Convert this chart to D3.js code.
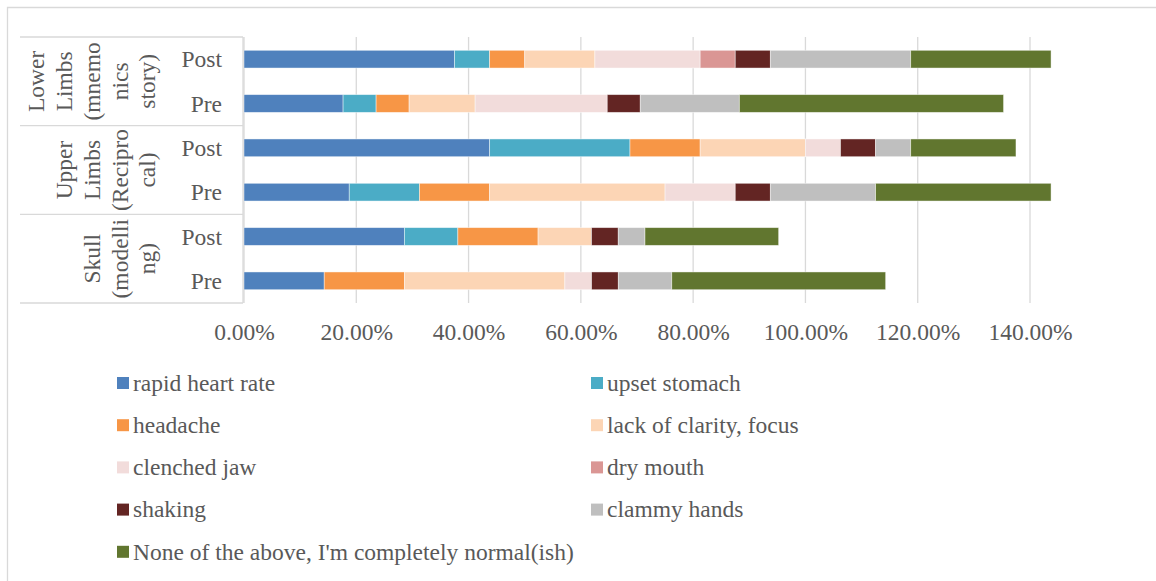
<!DOCTYPE html>
<html>
<head>
<meta charset="utf-8">
<script src="https://cdn.jsdelivr.net/npm/d3@7"></script>
<style>
  html, body { margin: 0; padding: 0; background: #fff; }
  svg { display: block; font-family: "Liberation Serif", "Times New Roman", serif; }
</style>
</head>
<body>
<svg id="chart" width="1156" height="581"></svg>
<script>
// Rows, top to bottom: each exercise group has a Post and a Pre bar
const rowLabels = ["Post", "Pre", "Post", "Pre", "Post", "Pre"];
const groupLabels = [
  ["Lower", "Limbs", "(mnemo", "nics", "story)"],
  ["Upper", "Limbs", "(Recipro", "cal)"],
  ["Skull", "(modelli", "ng)"]
];

// Share of respondents (%) reporting each symptom, per row
const rapidHeartRate = [37.5, 17.65, 43.75, 18.75, 28.57, 14.29];
const upsetStomach   = [6.25, 5.88, 25, 12.5, 9.52, 0];
const headache       = [6.25, 5.88, 12.5, 12.5, 14.29, 14.29];
const lackOfClarity  = [12.5, 11.76, 18.75, 31.25, 9.52, 28.57];
const clenchedJaw    = [18.75, 23.53, 6.25, 12.5, 0, 4.76];
const dryMouth       = [6.25, 0, 0, 0, 0, 0];
const shaking        = [6.25, 5.88, 6.25, 6.25, 4.76, 4.76];
const clammyHands    = [25, 17.65, 6.25, 18.75, 4.76, 9.52];
const noneOfAbove    = [25, 47.06, 18.75, 31.25, 23.81, 38.10];

const seriesNames = [
  "rapid heart rate", "upset stomach", "headache", "lack of clarity, focus",
  "clenched jaw", "dry mouth", "shaking", "clammy hands",
  "None of the above, I'm completely normal(ish)"
];
const seriesValues = [
  rapidHeartRate, upsetStomach, headache, lackOfClarity,
  clenchedJaw, dryMouth, shaking, clammyHands, noneOfAbove
];
const seriesColors = [
  "#4f81bd", "#4bacc6", "#f79646", "#fcd5b5",
  "#f2dcdb", "#da9694", "#632523", "#bfbfbf", "#61762f"
];
const tickValues = [0, 20, 40, 60, 80, 100, 120, 140];

const svg = d3.select("#chart");
const textColor = "#595959";
const lineColor = "#d9d9d9";
const fontSize = 23.5;

// Outer chart frame
svg.append("path")
  .attr("d", "M7.5,600 L7.5,7.5 L1200,7.5")
  .attr("fill", "none").attr("stroke", lineColor).attr("stroke-width", 1.3);

const plotTop = 37, plotBottom = 303;
const x = d3.scaleLinear().domain([0, 140]).range([244, 1030]);
const rowIds = d3.range(rowLabels.length);
const y = d3.scaleBand().domain(rowIds).range([plotTop, plotBottom])
  .paddingInner(0.6).paddingOuter(0.3);

// Vertical gridlines
svg.append("g").selectAll("line").data(tickValues).join("line")
  .attr("x1", d => x(d)).attr("x2", d => x(d))
  .attr("y1", plotTop).attr("y2", plotBottom)
  .attr("stroke", lineColor).attr("stroke-width", 1.3);

// Percentage tick labels
const xAxis = d3.axisBottom(x).tickValues(tickValues)
  .tickFormat(d => d.toFixed(2) + "%").tickSize(0).tickPadding(0);
const gx = svg.append("g").attr("transform", `translate(0,${plotBottom + 37})`).call(xAxis);
gx.select(".domain").remove();
gx.selectAll("text")
  .attr("dy", 0).attr("y", 0)
  .attr("fill", textColor).attr("font-size", fontSize)
  .attr("font-family", "Liberation Serif, Times New Roman, serif");

// Stacked bars
const table = rowIds.map(i => {
  const r = { row: i };
  seriesNames.forEach((n, k) => { r[n] = seriesValues[k][i]; });
  return r;
});
const stacked = d3.stack().keys(seriesNames)(table);
const color = d3.scaleOrdinal().domain(seriesNames).range(seriesColors);

svg.append("g").selectAll("g").data(stacked).join("g")
  .attr("fill", d => color(d.key))
  .selectAll("rect").data(d => d.filter(s => s[1] - s[0] > 0)).join("rect")
  .attr("x", d => x(d[0]))
  .attr("width", d => x(d[1]) - x(d[0]))
  .attr("y", d => y(d.data.row))
  .attr("height", y.bandwidth())
  .attr("stroke", "#ffffff").attr("stroke-opacity", 0.55).attr("stroke-width", 0.8);

// Multi-level category axis
const axisX = 243, tableLeft = 20;
const groupHeight = y.step() * 2;
const cat = svg.append("g");
cat.append("line")
  .attr("x1", axisX).attr("x2", axisX).attr("y1", plotTop).attr("y2", plotBottom)
  .attr("stroke", lineColor).attr("stroke-width", 1.3);
cat.selectAll("line.sep").data(d3.range(groupLabels.length + 1)).join("line")
  .attr("class", "sep")
  .attr("x1", tableLeft).attr("x2", axisX)
  .attr("y1", k => plotTop + k * groupHeight).attr("y2", k => plotTop + k * groupHeight)
  .attr("stroke", lineColor).attr("stroke-width", 1.3);

cat.selectAll("text.row").data(rowIds).join("text")
  .attr("class", "row")
  .attr("x", 222).attr("y", i => y(i) + y.bandwidth() / 2)
  .attr("dy", "0.35em").attr("text-anchor", "end")
  .attr("fill", textColor).attr("font-size", fontSize)
  .text(i => rowLabels[i]);

const lineStep = 27.7, lastLineX = 147;
groupLabels.forEach((lines, g) => {
  const cy = plotTop + (g + 0.5) * groupHeight;
  lines.forEach((ln, j) => {
    const cx = lastLineX - (lines.length - 1 - j) * lineStep;
    cat.append("text")
      .attr("transform", `translate(${cx},${cy}) rotate(-90)`)
      .attr("dy", "0.35em").attr("text-anchor", "middle")
      .attr("fill", textColor).attr("font-size", fontSize)
      .text(ln);
  });
});

// Legend, two columns
const legendCols = [117, 591], legendTop = 383, legendStep = 42.2;
const legend = svg.append("g").selectAll("g").data(seriesNames).join("g")
  .attr("transform", (d, i) => `translate(${legendCols[i % 2]},${legendTop + Math.floor(i / 2) * legendStep})`);
legend.append("rect")
  .attr("x", 0).attr("y", -6).attr("width", 12).attr("height", 12)
  .attr("fill", d => color(d));
legend.append("text")
  .attr("x", 16).attr("y", 0).attr("dy", "0.33em")
  .attr("fill", textColor).attr("font-size", fontSize)
  .text(d => d);
</script>
</body>
</html>
